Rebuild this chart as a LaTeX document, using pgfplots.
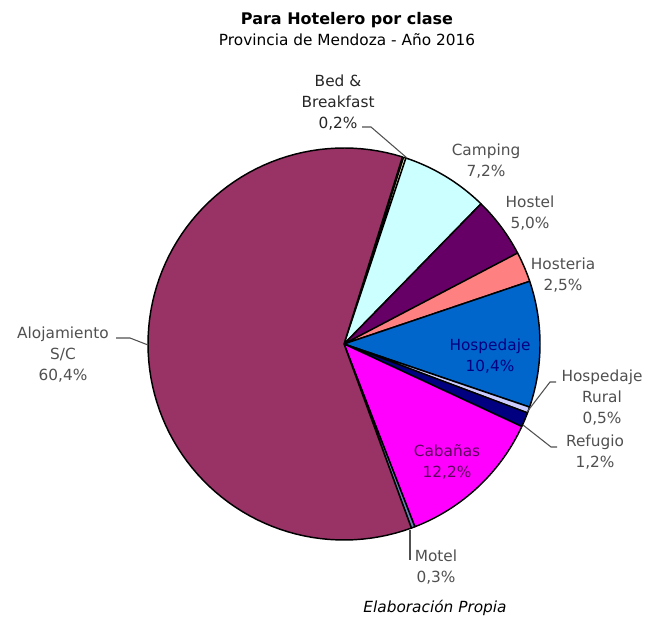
\documentclass[border=0pt]{standalone}
\usepackage{pgfplots}
\pgfplotsset{compat=1.18}
\usepackage{fontspec}
\setmainfont{DejaVu Sans}
\definecolor{cAloj}{HTML}{993366}
\definecolor{cBB}{HTML}{FFFFCC}
\definecolor{cCamp}{HTML}{CCFFFF}
\definecolor{cHostel}{HTML}{660066}
\definecolor{cHosteria}{HTML}{FF8080}
\definecolor{cHosp}{HTML}{0066CC}
\definecolor{cRural}{HTML}{CCCCFF}
\definecolor{cRef}{HTML}{000080}
\definecolor{cCab}{HTML}{FF00FF}
\definecolor{cMotel}{HTML}{6680B3}
\definecolor{lab}{HTML}{505050}
% pie geometry in pixel units
\def\cx{344}\def\cy{275}\def\rr{196}
\xdef\cum{72.3}
\newcommand{\slice}[2]{%
  \pgfmathsetmacro\sa{\cum}%
  \pgfmathsetmacro\sb{\cum-3.6*#2}%
  \edef\temp{\noexpand\addplot[fill=#1,draw=black,line width=1.1pt,line join=round,domain=\sb:\sa,samples=90,variable=\noexpand\t] ({\cx+\rr*cos(\noexpand\t)},{\cy+\rr*sin(\noexpand\t)}) -- (axis cs:\cx,\cy) -- cycle;}%
  \temp
  \xdef\cum{\sb}}
\begin{document}
\begin{tikzpicture}
\begin{axis}[
  width=486.75pt, height=464.25pt, scale only axis,
  xmin=0, xmax=649, ymin=0, ymax=619,
  hide axis, clip=false,
]
\path (rel axis cs:0,0) rectangle (rel axis cs:1,1);
\slice{cBB}{0.2}
\slice{cCamp}{7.2}
\slice{cHostel}{5.0}
\slice{cHosteria}{2.5}
\slice{cHosp}{10.4}
\slice{cRural}{0.5}
\slice{cRef}{1.2}
\slice{cCab}{12.2}
\slice{cMotel}{0.3}
\slice{cAloj}{60.4}
% titles
\node[font=\fontsize{12}{14}\selectfont\bfseries] at (axis cs:347,599) {Para Hotelero por clase};
\node[font=\fontsize{11.5}{14}\selectfont] at (axis cs:347,579) {Provincia de Mendoza - Año 2016};
\node[font=\fontsize{11.5}{14}\selectfont\itshape] at (axis cs:435,11) {Elaboración Propia};
% leader lines
\draw[lab, line width=0.8pt] (axis cs:362,492) -- (axis cs:371,492) -- (axis cs:407,461);
\draw[lab, line width=0.8pt] (axis cs:527,207) -- (axis cs:550,237) -- (axis cs:556,237);
\draw[lab, line width=0.8pt] (axis cs:523,194) -- (axis cs:551,172) -- (axis cs:557,172);
\draw[lab, line width=0.8pt] (axis cs:410,89) -- (axis cs:410,59);
\draw[lab, line width=0.8pt] (axis cs:116,281) -- (axis cs:130,281) -- (axis cs:148,274);
% labels
\begin{scope}[every node/.style={align=center, font=\fontsize{11.5}{15.75}\selectfont, text=lab}]
\node[text=black!85] at (axis cs:338,516) {Bed \&\\Breakfast\\0,2\%};
\node at (axis cs:486,458) {Camping\\7,2\%};
\node at (axis cs:530,406) {Hostel\\5,0\%};
\node at (axis cs:563,344) {Hosteria\\2,5\%};
\node[text=cRef] at (axis cs:490,263) {Hospedaje\\10,4\%};
\node at (axis cs:602,221) {Hospedaje\\Rural\\0,5\%};
\node at (axis cs:595,167) {Refugio\\1,2\%};
\node[text=black!50!cHostel!80!cCab] at (axis cs:447,157) {Cabañas\\12,2\%};
\node at (axis cs:436,52) {Motel\\0,3\%};
\node at (axis cs:63,264) {Alojamiento\\S/C\\60,4\%};
\end{scope}
\end{axis}
\end{tikzpicture}
\end{document}
